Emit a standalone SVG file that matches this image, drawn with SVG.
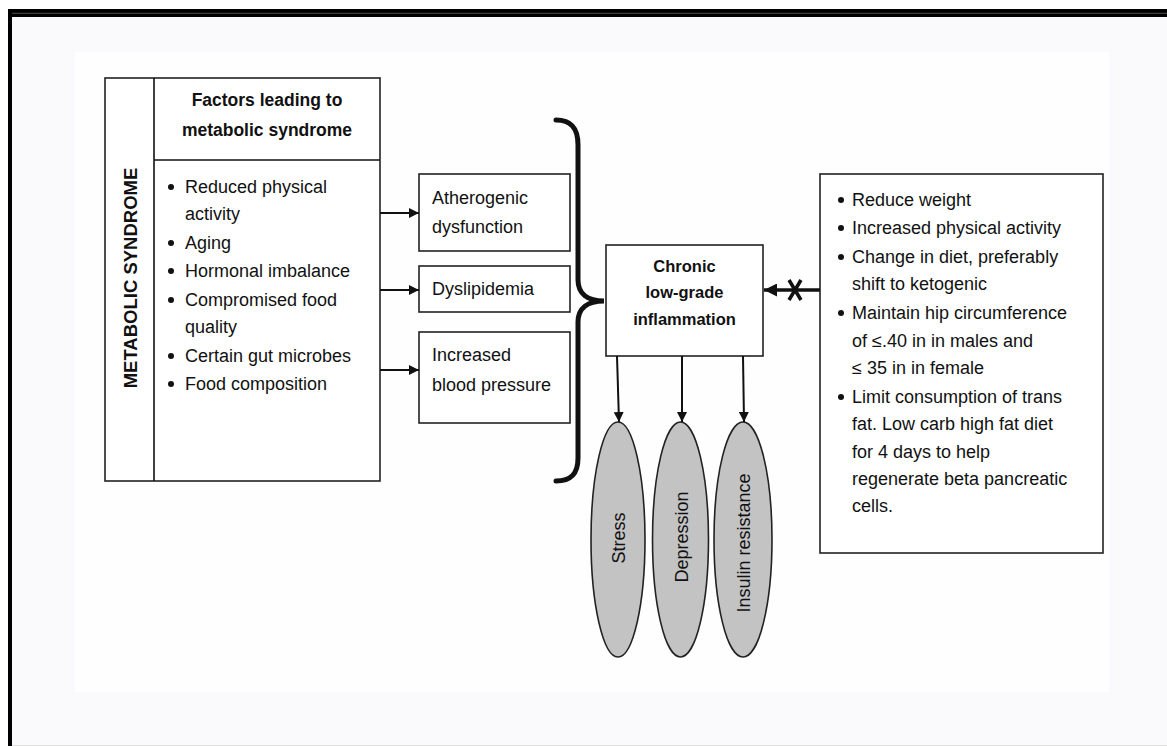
<svg xmlns="http://www.w3.org/2000/svg" width="1167" height="746" viewBox="0 0 1167 746">
<style>
  text { font-family: "Liberation Sans", Arial, sans-serif; fill: #111; }
  .t { font-size: 18px; }
  .hb { font-size: 17.5px; font-weight: bold; }
  .vb { font-size: 18.5px; font-weight: bold; }
  .cb { font-size: 16.5px; font-weight: bold; }
  .box { fill: #fff; stroke: #222; stroke-width: 1.6; }
  .ell { fill: #c3c3c3; stroke: #222; stroke-width: 1.6; }
  .ln { stroke: #111; stroke-width: 2; fill: none; }
  .thin { stroke-width: 1.6; }
  .brace { stroke: #111; stroke-width: 5; fill: none; stroke-linecap: round; }
  .thick { stroke: #111; stroke-width: 3.5; fill: none; }
  .dot { fill: #111; }
</style>
<defs>
  <marker id="arr" viewBox="0 0 10 10" refX="10" refY="5" markerWidth="10" markerHeight="10" markerUnits="userSpaceOnUse" orient="auto">
    <path d="M0,0 L10,5 L0,10 z" fill="#111"/>
  </marker>
  <marker id="arrB" viewBox="0 0 10 10" refX="10" refY="5" markerWidth="13" markerHeight="13" markerUnits="userSpaceOnUse" orient="auto">
    <path d="M0,0 L10,5 L0,10 z" fill="#111"/>
  </marker>
</defs>

<!-- background and frame -->
<rect x="0" y="0" width="1167" height="746" fill="#ffffff"/>
<rect x="8" y="9" width="1159" height="737" fill="#fafafd"/>
<rect x="75" y="52" width="1034" height="640" fill="#fefefe"/>
<rect x="8" y="9" width="1159" height="8" fill="#000"/>
<line x1="8" y1="13.3" x2="1167" y2="13.3" stroke="#666" stroke-width="0.8"/>
<rect x="8" y="9" width="4" height="737" fill="#000"/>
<line x1="12" y1="745.5" x2="1167" y2="745.5" stroke="#ddd" stroke-width="1"/>

<!-- Left box: metabolic syndrome -->
<g id="metabolic-syndrome">
  <rect class="box" x="105" y="78" width="275" height="403"/>
  <line class="ln thin" x1="154" y1="78" x2="154" y2="481"/>
  <line class="ln thin" x1="154" y1="160" x2="380" y2="160"/>
  <text class="hb" x="267" y="106" text-anchor="middle">Factors leading to</text>
  <text class="hb" x="267" y="136" text-anchor="middle">metabolic syndrome</text>
  <text class="vb" transform="translate(137,278) rotate(-90)" text-anchor="middle">METABOLIC SYNDROME</text>
  <circle class="dot" cx="171" cy="187" r="3"/>
  <text class="t" x="185" y="193">Reduced physical</text>
  <text class="t" x="185" y="220">activity</text>
  <circle class="dot" cx="171" cy="243" r="3"/>
  <text class="t" x="185" y="249">Aging</text>
  <circle class="dot" cx="171" cy="271" r="3"/>
  <text class="t" x="185" y="277">Hormonal imbalance</text>
  <circle class="dot" cx="171" cy="300" r="3"/>
  <text class="t" x="185" y="306">Compromised food</text>
  <text class="t" x="185" y="333">quality</text>
  <circle class="dot" cx="171" cy="356" r="3"/>
  <text class="t" x="185" y="362">Certain gut microbes</text>
  <circle class="dot" cx="171" cy="384" r="3"/>
  <text class="t" x="185" y="390">Food composition</text>
</g>

<!-- middle boxes -->
<g id="atherogenic">
  <rect class="box" x="419" y="174" width="151" height="77"/>
  <text class="t" x="432" y="204">Atherogenic</text>
  <text class="t" x="432" y="233">dysfunction</text>
</g>
<g id="dyslipidemia">
  <rect class="box" x="419" y="266" width="151" height="46"/>
  <text class="t" x="432" y="295">Dyslipidemia</text>
</g>
<g id="blood-pressure">
  <rect class="box" x="419" y="332" width="151" height="91"/>
  <text class="t" x="432" y="361">Increased</text>
  <text class="t" x="432" y="391">blood pressure</text>
</g>

<!-- chronic inflammation -->
<g id="chronic-inflammation">
  <rect class="box" x="606" y="245" width="157" height="111"/>
  <text class="cb" x="684.5" y="272" text-anchor="middle">Chronic</text>
  <text class="cb" x="684.5" y="298" text-anchor="middle">low-grade</text>
  <text class="cb" x="684.5" y="325" text-anchor="middle">inflammation</text>
</g>

<!-- outcomes -->
<g id="stress">
  <ellipse class="ell" cx="618" cy="539.5" rx="27" ry="117.5"/>
  <text class="t" transform="translate(625,538) rotate(-90)" text-anchor="middle">Stress</text>
</g>
<g id="depression">
  <ellipse class="ell" cx="680.5" cy="539.5" rx="28" ry="117.5"/>
  <text class="t" transform="translate(688,537) rotate(-90)" text-anchor="middle">Depression</text>
</g>
<g id="insulin-resistance">
  <ellipse class="ell" cx="743" cy="539.5" rx="29" ry="117.5"/>
  <text class="t" transform="translate(750,543) rotate(-90)" text-anchor="middle">Insulin resistance</text>
</g>

<!-- interventions -->
<g id="interventions">
  <rect class="box" x="820" y="174" width="283" height="379"/>
  <circle class="dot" cx="841" cy="200" r="3"/>
  <text class="t" x="852" y="206">Reduce weight</text>
  <circle class="dot" cx="841" cy="228" r="3"/>
  <text class="t" x="852" y="234">Increased physical activity</text>
  <circle class="dot" cx="841" cy="257" r="3"/>
  <text class="t" x="852" y="263">Change in diet, preferably</text>
  <text class="t" x="852" y="290">shift to ketogenic</text>
  <circle class="dot" cx="841" cy="313" r="3"/>
  <text class="t" x="852" y="319">Maintain hip circumference</text>
  <text class="t" x="852" y="347">of ≤.40 in in males and</text>
  <text class="t" x="852" y="374">≤ 35 in in female</text>
  <circle class="dot" cx="841" cy="397" r="3"/>
  <text class="t" x="852" y="403">Limit consumption of trans</text>
  <text class="t" x="852" y="430">fat. Low carb high fat diet</text>
  <text class="t" x="852" y="458">for 4 days to help</text>
  <text class="t" x="852" y="485">regenerate beta pancreatic</text>
  <text class="t" x="852" y="512">cells.</text>
</g>

<!-- connectors -->
<g id="connectors">
  <line class="ln" x1="380" y1="213" x2="419" y2="213" marker-end="url(#arr)"/>
  <line class="ln" x1="380" y1="290" x2="419" y2="290" marker-end="url(#arr)"/>
  <line class="ln" x1="380" y1="370" x2="419" y2="370" marker-end="url(#arr)"/>
  <path class="brace" d="M556,120 C571,120 578,128 578,145 L578,280 C578,294 588,301 604,301 C588,301 578,308 578,322 L578,458 C578,474 571,481 556,481"/>
  <line class="ln" x1="617" y1="356" x2="619" y2="422" marker-end="url(#arr)"/>
  <line class="ln" x1="682" y1="356" x2="682" y2="422" marker-end="url(#arr)"/>
  <line class="ln" x1="743" y1="356" x2="744" y2="422" marker-end="url(#arr)"/>
  <line class="thick" x1="820" y1="290" x2="764" y2="290" marker-end="url(#arrB)"/>
  <path class="thick" d="M789,280 L801,300 M801,280 L789,300"/>
</g>
</svg>
